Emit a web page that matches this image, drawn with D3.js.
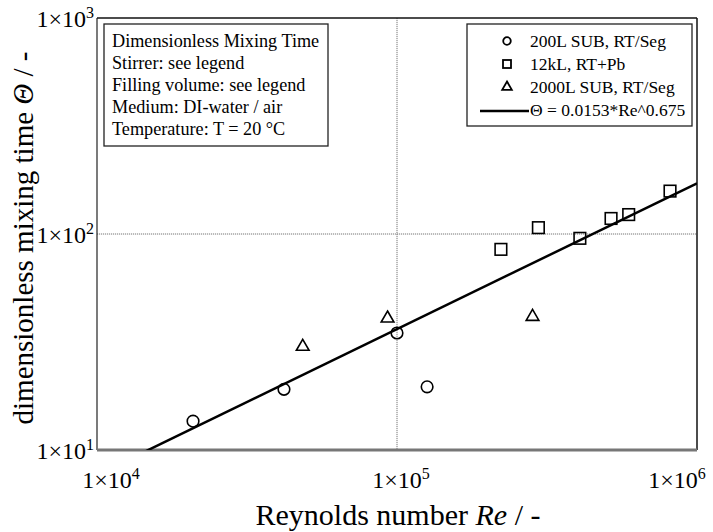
<!DOCTYPE html>
<html>
<head>
<meta charset="utf-8">
<script src="https://cdn.jsdelivr.net/npm/d3@7"></script>
<style>
  body { margin: 0; background: #fff; }
  text { font-family: "Liberation Serif", "DejaVu Serif", serif; fill: #000; }
</style>
</head>
<body>
<script>
// data
var sub200Re = [2.09e4, 4.2e4, 1.0e5, 1.26e5];
var sub200Theta = [13.6, 19.1, 34.8, 19.6];

var kl12Re = [2.22e5, 2.96e5, 4.07e5, 5.17e5, 5.92e5, 8.13e5];
var kl12Theta = [84.9, 107, 95.5, 118, 123, 158];

var sub2000Re = [4.85e4, 9.3e4, 2.83e5];
var sub2000Theta = [30.1, 40.7, 41.4];

// fit: Theta = 0.0153*Re^0.675
var fitA = 0.0153, fitB = 0.675;
var fitRe = [1.0e4, 1.0e6];

var xTicks = [1e4, 1e5, 1e6];
var yTicks = [1e1, 1e2, 1e3];
var infoLines = ["Dimensionless Mixing Time", "Stirrer: see legend", "Filling volume: see legend",
                 "Medium: DI-water / air", "Temperature: T = 20 \u00b0C"];
var legendLabels = ["200L SUB, RT/Seg", "12kL, RT+Pb", "2000L SUB, RT/Seg", "\u0398 = 0.0153*Re^0.675"];

var W = 713, H = 532;
var margin = {top: 18, right: 16, bottom: 82, left: 97};
var width = W - margin.left - margin.right;
var height = H - margin.top - margin.bottom;

var svg = d3.select("body").append("svg")
    .attr("width", W)
    .attr("height", H);

var g = svg.append("g")
    .attr("transform", "translate(" + margin.left + "," + margin.top + ")");

var x = d3.scaleLog().domain([1e4, 1e6]).range([0, width]);
var y = d3.scaleLog().domain([10, 1000]).range([height, 0]);

g.append("clipPath").attr("id", "clip")
  .append("rect").attr("width", width).attr("height", height);

// grid lines at the middle decade
g.selectAll(".gx").data([1e5]).enter().append("line")
    .attr("x1", function(d) { return x(d); }).attr("x2", function(d) { return x(d); })
    .attr("y1", 0).attr("y2", height)
    .attr("stroke", "#777").attr("stroke-width", 1).attr("stroke-dasharray", "1.2,0.8");
g.selectAll(".gy").data([1e2]).enter().append("line")
    .attr("y1", function(d) { return y(d); }).attr("y2", function(d) { return y(d); })
    .attr("x1", 0).attr("x2", width)
    .attr("stroke", "#777").attr("stroke-width", 1).attr("stroke-dasharray", "1.2,0.8");

// frame
g.append("line").attr("x1", 0).attr("x2", width).attr("y1", 0).attr("y2", 0)
    .attr("stroke", "#111").attr("stroke-width", 1.5);
g.append("line").attr("x1", width).attr("x2", width).attr("y1", 0).attr("y2", height)
    .attr("stroke", "#111").attr("stroke-width", 1.5);
g.append("line").attr("x1", 0).attr("x2", 0).attr("y1", 0).attr("y2", height)
    .attr("stroke", "#222").attr("stroke-width", 1.2);
g.append("line").attr("x1", 0).attr("x2", width).attr("y1", height).attr("y2", height)
    .attr("stroke", "#777").attr("stroke-width", 3);

// fit line
var fitPts = fitRe.map(function(r) { return [r, fitA * Math.pow(r, fitB)]; });
g.append("path")
    .datum(fitPts)
    .attr("clip-path", "url(#clip)")
    .attr("fill", "none").attr("stroke", "#000").attr("stroke-width", 2.5)
    .attr("d", d3.line().x(function(d) { return x(d[0]); }).y(function(d) { return y(d[1]); }));

// markers
function zip(a, b) { return a.map(function(v, i) { return [v, b[i]]; }); }

g.selectAll(".c").data(zip(sub200Re, sub200Theta)).enter().append("circle")
    .attr("cx", function(d) { return x(d[0]); })
    .attr("cy", function(d) { return y(d[1]); })
    .attr("r", 5.8)
    .attr("fill", "none").attr("stroke", "#000").attr("stroke-width", 1.6);

g.selectAll(".s").data(zip(kl12Re, kl12Theta)).enter().append("rect")
    .attr("x", function(d) { return x(d[0]) - 5.8; })
    .attr("y", function(d) { return y(d[1]) - 5.8; })
    .attr("width", 11.6).attr("height", 11.6)
    .attr("fill", "none").attr("stroke", "#000").attr("stroke-width", 1.6);

var tri = d3.symbol().type(d3.symbolTriangle).size(70);
g.selectAll(".t").data(zip(sub2000Re, sub2000Theta)).enter().append("path")
    .attr("transform", function(d) { return "translate(" + x(d[0]) + "," + y(d[1]) + ")"; })
    .attr("d", tri)
    .attr("fill", "none").attr("stroke", "#000").attr("stroke-width", 1.6);

// tick labels
function powLabel(sel, v) {
  var e = Math.round(Math.log10(v));
  sel.append("tspan").text("1\u00d710");
  sel.append("tspan").attr("font-size", "16px").attr("dy", "-9").text(e);
}

g.selectAll(".xl").data(xTicks).enter().append("text")
    .attr("x", function(d, i) { return x(d) + (i === 0 ? 14 : i === 2 ? -20 : 4); })
    .attr("y", height + 38)
    .attr("text-anchor", "middle")
    .attr("font-size", "24px")
    .each(function(d) { powLabel(d3.select(this), d); });

g.selectAll(".yl").data(yTicks).enter().append("text")
    .attr("x", -3)
    .attr("y", function(d) { return y(d) + 9; })
    .attr("text-anchor", "end")
    .attr("font-size", "24px")
    .each(function(d) { powLabel(d3.select(this), d); });

// axis titles
var xt = svg.append("text")
    .attr("x", 398).attr("y", 525)
    .attr("text-anchor", "middle")
    .attr("font-size", "30px");
xt.append("tspan").text("Reynolds number ");
xt.append("tspan").attr("font-style", "italic").text("Re");
xt.append("tspan").text(" / -");

var yt = svg.append("text")
    .attr("transform", "translate(33,238) rotate(-90)")
    .attr("text-anchor", "middle")
    .attr("font-size", "29px");
yt.append("tspan").text("dimensionless mixing time ");
yt.append("tspan").attr("font-style", "italic").text("\u0398");
yt.append("tspan").text(" / -");

// info box
var info = g.append("g").attr("transform", "translate(7,6)");
info.append("rect").attr("width", 224).attr("height", 122)
    .attr("fill", "#fff").attr("stroke", "#222").attr("stroke-width", 1.3);
info.selectAll("text").data(infoLines).enter().append("text")
    .attr("x", 8)
    .attr("y", function(d, i) { return 23 + i * 22; })
    .attr("font-size", "18.2px")
    .text(function(d) { return d; });

// legend
var leg = g.append("g").attr("transform", "translate(" + (width - 230) + ",6)");
leg.append("rect").attr("width", 225).attr("height", 102)
    .attr("fill", "#fff").attr("stroke", "#222").attr("stroke-width", 1.3);
var rows = leg.selectAll(".row").data(legendLabels).enter().append("g")
    .attr("transform", function(d, i) { return "translate(0," + (17 + i * 23) + ")"; });
rows.append("text")
    .attr("x", 63).attr("y", 6)
    .attr("font-size", "17.5px")
    .text(function(d) { return d; });
rows.each(function(d, i) {
  var r = d3.select(this);
  if (i === 0) {
    r.append("circle").attr("cx", 40).attr("cy", 0).attr("r", 3.8)
      .attr("fill", "none").attr("stroke", "#000").attr("stroke-width", 1.8);
  } else if (i === 1) {
    r.append("rect").attr("x", 36).attr("y", -4).attr("width", 8).attr("height", 8)
      .attr("fill", "none").attr("stroke", "#000").attr("stroke-width", 1.8);
  } else if (i === 2) {
    r.append("path").attr("transform", "translate(40,0)")
      .attr("d", d3.symbol().type(d3.symbolTriangle).size(40))
      .attr("fill", "none").attr("stroke", "#000").attr("stroke-width", 1.8);
  } else {
    r.append("line").attr("x1", 13).attr("x2", 62).attr("y1", 1).attr("y2", 1)
      .attr("stroke", "#000").attr("stroke-width", 2.5);
  }
});
</script>
</body>
</html>
